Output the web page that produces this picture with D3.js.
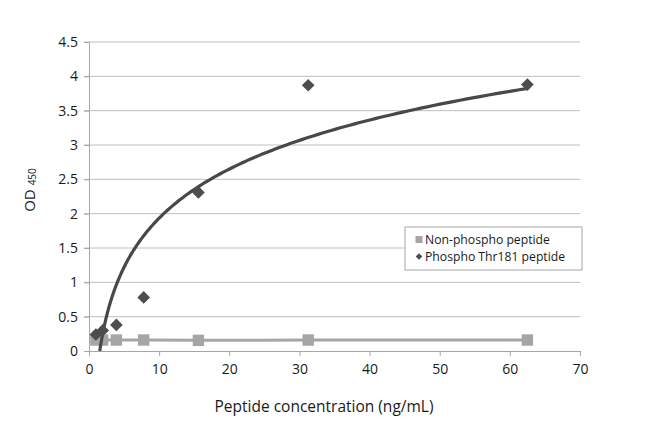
<!DOCTYPE html>
<html>
<head>
<meta charset="utf-8">
<script src="https://cdn.jsdelivr.net/npm/d3@7"></script>
<style>
  body { margin: 0; background: #fff; }
  svg { font-family: "Open Sans", sans-serif; }
</style>
</head>
<body>
<div id="chart"></div>
<script>
// Data
const concentrations = [0.98, 1.95, 3.9, 7.8, 15.6, 31.25, 62.5];
const nonPhospho = [0.16, 0.16, 0.16, 0.16, 0.155, 0.16, 0.16];
const phosphoThr181 = [0.24, 0.30, 0.38, 0.78, 2.31, 3.87, 3.88];
const xTicks = [0, 10, 20, 30, 40, 50, 60, 70];
const yTicks = [0, 0.5, 1, 1.5, 2, 2.5, 3, 3.5, 4, 4.5];
const seriesNames = ["Non-phospho peptide", "Phospho Thr181 peptide"];

const width = 650, height = 427;
const margin = { left: 89, right: 70, top: 42, bottom: 76 };

const svg = d3.select('#chart').append('svg').attr('width', width).attr('height', height);

const x = d3.scaleLinear().domain([0, 70]).range([margin.left, width - margin.right]);
const y = d3.scaleLinear().domain([0, 4.5]).range([height - margin.bottom, margin.top]);

// gridlines
svg.append('g').selectAll('line').data(yTicks.slice(1)).enter().append('line')
    .attr('x1', x(0) - 5).attr('x2', x(70))
    .attr('y1', d => y(d)).attr('y2', d => y(d))
    .attr('stroke', '#bfbfbf').attr('stroke-width', 1);

// axes
const xAxis = svg.append('g').attr('transform', `translate(0,${y(0)})`)
    .call(d3.axisBottom(x).tickValues(xTicks).tickSize(5).tickPadding(8));
const yAxis = svg.append('g').attr('transform', `translate(${x(0)},0)`)
    .call(d3.axisLeft(y).tickValues(yTicks).tickSize(5).tickPadding(6).tickFormat(d3.format('')));
[xAxis, yAxis].forEach(a => {
    a.select('.domain').attr('stroke', '#a6a6a6');
    a.selectAll('.tick line').attr('stroke', '#a6a6a6');
    a.selectAll('.tick text').attr('fill', '#1a1a1a').style('font-size', '14px').style('font-family', '"Open Sans", sans-serif');
});

// non-phospho series
const pts0 = concentrations.map((c, i) => [c, nonPhospho[i]]);
svg.append('path').datum(pts0)
    .attr('d', d3.line().x(d => x(d[0])).y(d => y(d[1])))
    .attr('fill', 'none').attr('stroke', '#a5a5a5').attr('stroke-width', 3);
svg.append('g').selectAll('path').data(pts0).enter().append('path')
    .attr('d', d3.symbol().type(d3.symbolSquare).size(130))
    .attr('transform', d => `translate(${x(d[0])},${y(d[1])})`)
    .attr('fill', '#a5a5a5');

// logarithmic trendline fitted to phospho series
const lx = concentrations.map(Math.log);
const mx = d3.mean(lx), my = d3.mean(phosphoThr181);
const a = d3.sum(lx, (v, i) => (v - mx) * (phosphoThr181[i] - my)) / d3.sum(lx, v => (v - mx) ** 2);
const b = my - a * mx;
const xStart = Math.exp(-b / a), xEnd = d3.max(concentrations);
const fitPts = d3.range(0, 201).map(i => {
    const c = xStart * Math.pow(xEnd / xStart, i / 200);
    return [c, a * Math.log(c) + b];
});
svg.append('path').datum(fitPts)
    .attr('d', d3.line().curve(d3.curveBasis).x(d => x(d[0])).y(d => y(d[1])))
    .attr('fill', 'none').attr('stroke', '#484848').attr('stroke-width', 3.2);

// phospho series markers
const pts1 = concentrations.map((c, i) => [c, phosphoThr181[i]]);
svg.append('g').selectAll('path').data(pts1).enter().append('path')
    .attr('d', d3.symbol().type(d3.symbolSquare).size(80))
    .attr('transform', d => `translate(${x(d[0])},${y(d[1])}) rotate(45)`)
    .attr('fill', '#4d4d4d');

// axis titles
svg.append('text').attr('x', 324).attr('y', 412)
    .attr('text-anchor', 'middle').style('font-size', '15.5px').attr('fill', '#1a1a1a')
    .text('Peptide concentration (ng/mL)');
const yt = svg.append('text').attr('transform', 'translate(35,190) rotate(-90)')
    .attr('text-anchor', 'middle').attr('fill', '#1a1a1a').style('font-size', '15px');
yt.append('tspan').text('OD ');
yt.append('tspan').style('font-size', '10px').attr('dy', 1).text('450');

// legend
const lg = svg.append('g').attr('transform', 'translate(405,227)');
lg.append('rect').attr('width', 177).attr('height', 43)
    .attr('fill', '#fff').attr('stroke', '#a6a6a6');
lg.append('path').attr('d', d3.symbol().type(d3.symbolSquare).size(49))
    .attr('transform', 'translate(14,12.5)').attr('fill', '#a5a5a5');
lg.append('path').attr('d', d3.symbol().type(d3.symbolSquare).size(22))
    .attr('transform', 'translate(14,29.5) rotate(45)').attr('fill', '#4d4d4d');
lg.selectAll('text.lbl').data(seriesNames).enter().append('text')
    .attr('x', 20).attr('y', (d, i) => 17 + i * 17)
    .style('font-size', '12.2px').attr('fill', '#1a1a1a').text(d => d);
</script>
</body>
</html>
